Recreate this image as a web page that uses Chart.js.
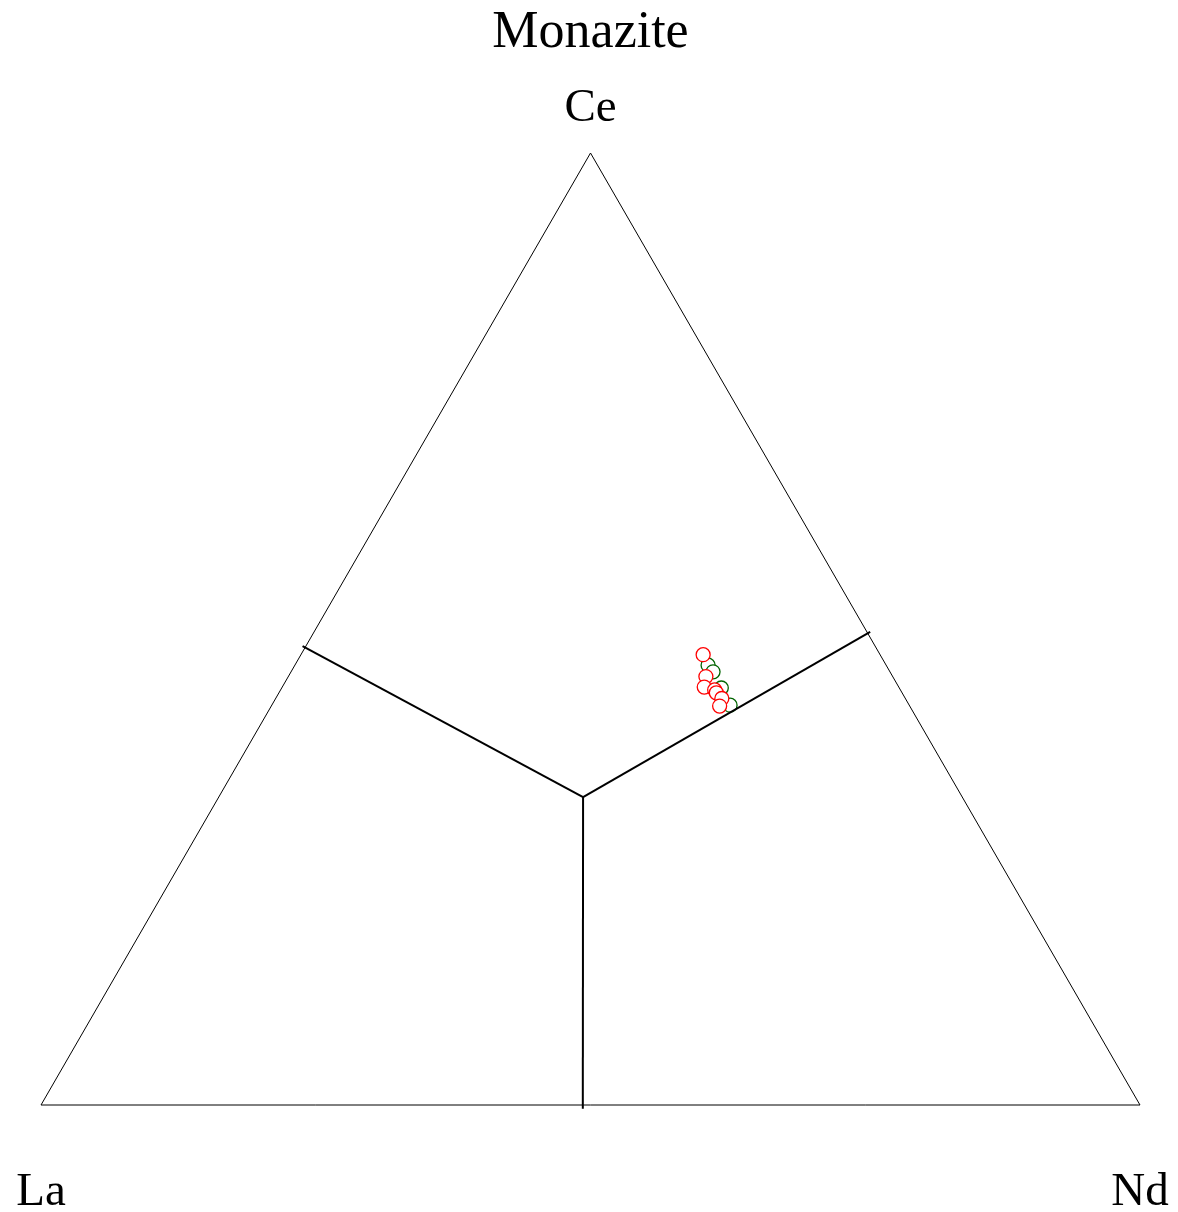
<!DOCTYPE html>
<html>
<head>
<meta charset="utf-8">
<title>Monazite</title>
<script src="https://cdn.jsdelivr.net/npm/chart.js@4"></script>
<style>
  html, body { margin: 0; padding: 0; background: #ffffff; }
  canvas { display: block; }
</style>
</head>
<body>
<canvas id="tern" width="1178" height="1212"></canvas>
<script>
// Vertex labels (bottom-left, top, bottom-right)
const vertexLabels = ['La', 'Ce', 'Nd'];
const chartTitle = 'Monazite';

// Monazite analyses, ternary proportions (La, Ce, Nd)
const groupA_La = [0.161, 0.170, 0.177, 0.169, 0.169, 0.167, 0.173];
const groupA_Ce = [0.473, 0.450, 0.439, 0.436, 0.433, 0.427, 0.419];
const groupA_Nd = [0.366, 0.380, 0.384, 0.395, 0.398, 0.406, 0.408];

const groupB_La = [0.162, 0.161, 0.162, 0.163];
const groupB_Ce = [0.462, 0.455, 0.438, 0.420];
const groupB_Nd = [0.376, 0.384, 0.400, 0.417];

// Field boundaries: centre node and the three arm ends (La, Ce, Nd)
const nodeLa = 0.345, nodeCe = 0.3235, nodeNd = 0.3315;
const armLa = [0.509, 0.521, -0.003];
const armCe = [-0.004, 0.482, 0.497];
const armNd = [0.495, -0.003, 0.506];

const H = Math.sqrt(3) / 2;
function toXY(la, ce, nd) {
  const s = la + ce + nd;
  const c = ce / s, n = nd / s;
  return { x: n + c / 2, y: c * H };
}
function pts(la, ce, nd) {
  return la.map((v, i) => toXY(v, ce[i], nd[i]));
}

const outline = [toXY(1, 0, 0), toXY(0, 0, 1), toXY(0, 1, 0), toXY(1, 0, 0)];
const node = toXY(nodeLa, nodeCe, nodeNd);
const armSets = armLa.map((v, i) => ({
  type: 'line',
  data: [node, toXY(v, armCe[i], armNd[i])],
  borderColor: '#000000',
  borderWidth: 2,
  pointRadius: 0,
  fill: false,
  clip: false
}));

const labelPlugin = {
  id: 'ternLabels',
  afterDraw(chart) {
    const ctx = chart.ctx;
    const xs = chart.scales.x, ys = chart.scales.y;
    ctx.save();
    ctx.fillStyle = '#000000';
    ctx.textAlign = 'center';
    ctx.textBaseline = 'alphabetic';
    ctx.font = '52px "Liberation Serif", "DejaVu Serif", serif';
    ctx.fillText(chartTitle, xs.getPixelForValue(0.5), 47);
    ctx.font = '47px "Liberation Serif", "DejaVu Serif", serif';
    const top = toXY(0, 1, 0);
    ctx.fillText(vertexLabels[1], xs.getPixelForValue(top.x), ys.getPixelForValue(top.y) - 32);
    ctx.fillText(vertexLabels[0], xs.getPixelForValue(0), ys.getPixelForValue(0) + 100);
    ctx.fillText(vertexLabels[2], xs.getPixelForValue(1), ys.getPixelForValue(0) + 100);
    ctx.restore();
  }
};

new Chart(document.getElementById('tern'), {
  type: 'scatter',
  data: {
    datasets: [
      {
        type: 'line',
        data: outline,
        borderColor: '#000000',
        borderWidth: 1,
        pointRadius: 0,
        fill: false,
        clip: false
      },
      ...armSets,
      {
        data: pts(groupB_La, groupB_Ce, groupB_Nd),
        borderColor: '#006400',
        backgroundColor: '#ffffff',
        borderWidth: 1.3,
        pointRadius: 7,
        clip: false,
        order: 2
      },
      {
        data: pts(groupA_La, groupA_Ce, groupA_Nd),
        borderColor: '#ff0000',
        backgroundColor: '#ffffff',
        borderWidth: 1.3,
        pointRadius: 7,
        clip: false,
        order: 1
      }
    ]
  },
  options: {
    responsive: false,
    animation: false,
    layout: { padding: { left: 41, right: 38, top: 153, bottom: 107 } },
    scales: {
      x: { type: 'linear', min: 0, max: 1, display: false },
      y: { type: 'linear', min: 0, max: H, display: false }
    },
    plugins: {
      legend: { display: false },
      tooltip: { enabled: false },
      title: { display: false }
    },
    elements: { line: { tension: 0 } }
  },
  plugins: [labelPlugin]
});
</script>
</body>
</html>
